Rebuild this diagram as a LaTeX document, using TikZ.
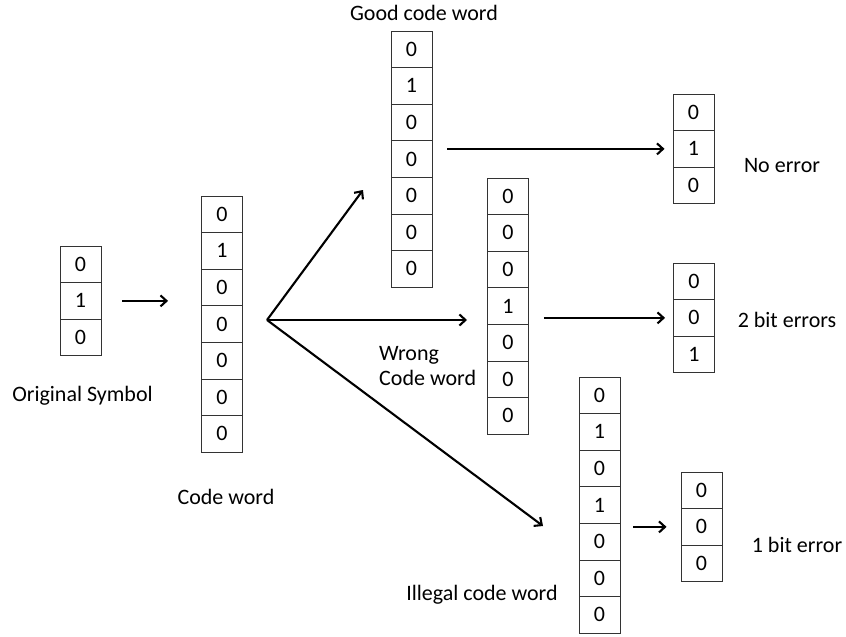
\documentclass[tikz,border=0pt]{standalone}
\usepackage{fontspec}
\setmainfont{Carlito}
\usetikzlibrary{arrows.meta,positioning}
\tikzstyle{cell} = [draw=black!80, rectangle, line width=0.9pt, minimum width=41pt, minimum height=36.6pt, inner sep=0, font=\fontsize{22}{26}\selectfont]
\tikzstyle{txt} = [inner sep=0, anchor=base, font=\fontsize{22}{26}\selectfont]
\tikzstyle{arr} = [->, line width=2.1pt]

\begin{document}
\begin{tikzpicture}[x=1pt, y=-1pt, >={Straight Barb[length=6pt,width=11pt]}]
	  \useasboundingbox (0,0) rectangle (846,637);
	  % bit columns
	  \foreach \b [count=\i] in {0,1,0}
	    \node [cell] (orig\i) at (80.5, 227.7+36.6*\i) {\b};
	  \foreach \b [count=\i] in {0,1,0,0,0,0,0}
	    \node [cell] (code\i) at (222, 177.7+36.6*\i) {\b};
	  \foreach \b [count=\i] in {0,1,0,0,0,0,0}
	    \node [cell] (good\i) at (411.5, 12.7+36.6*\i) {\b};
	  \foreach \b [count=\i] in {0,0,0,1,0,0,0}
	    \node [cell] (wrong\i) at (508, 159.7+36.6*\i) {\b};
	  \foreach \b [count=\i] in {0,1,0,1,0,0,0}
	    \node [cell] (illegal\i) at (599.5, 358.7+36.6*\i) {\b};
	  \foreach \b [count=\i] in {0,1,0}
	    \node [cell] (noerr\i) at (693.5, 75.7+36.6*\i) {\b};
	  \foreach \b [count=\i] in {0,0,1}
	    \node [cell] (twobit\i) at (694, 244.7+36.6*\i) {\b};
	  \foreach \b [count=\i] in {0,0,0}
	    \node [cell] (onebit\i) at (701.5, 453.7+36.6*\i) {\b};

	  % captions
	  \node [txt] (origlbl) at (82.5,401) {Original Symbol};
	  \node [txt] (codelbl) at (226,504) {Code word};
	  \node [txt] (goodlbl) at (424,20) {Good code word};
	  \node [txt, anchor=base west] (wronglbl) at (379,360) {Wrong};
	  \node [txt, anchor=base west] (wronglblb) at (379,385) {Code word};
	  \node [txt] (illegallbl) at (482,600) {Illegal code word};
	  \node [txt] (noerrlbl) at (782,172) {No error};
	  \node [txt] (twobitlbl) at (787,327) {2 bit errors};
	  \node [txt] (onebitlbl) at (797,552) {1 bit error};

	  % arrows
	  \coordinate (fan) at (267,320);
	  \coordinate (goodtip) at (363,190);
	  \coordinate (wrongtip) at (467,320);
	  \coordinate (illegaltip) at (543,526);
	  \draw [arr, shorten <=21pt, shorten >=33pt] (orig2.east) -- (orig2.east -| code1.west);
	  \draw [arr] (fan) -- (goodtip);
	  \draw [arr] (fan) -- (wrongtip);
	  \draw [arr] (fan) -- (illegaltip);
	  \draw [arr, shorten <=15pt, shorten >=8pt] (good1.east |- noerr2.west) -- (noerr2.west);
	  \draw [arr, shorten <=15pt, shorten >=8pt] (wrong1.east |- twobit2.west) -- (twobit2.west);
	  \draw [arr, shorten <=13pt, shorten >=14pt] (illegal1.east |- onebit2.west) -- (onebit2.west);
	\end{tikzpicture}
\end{document}
